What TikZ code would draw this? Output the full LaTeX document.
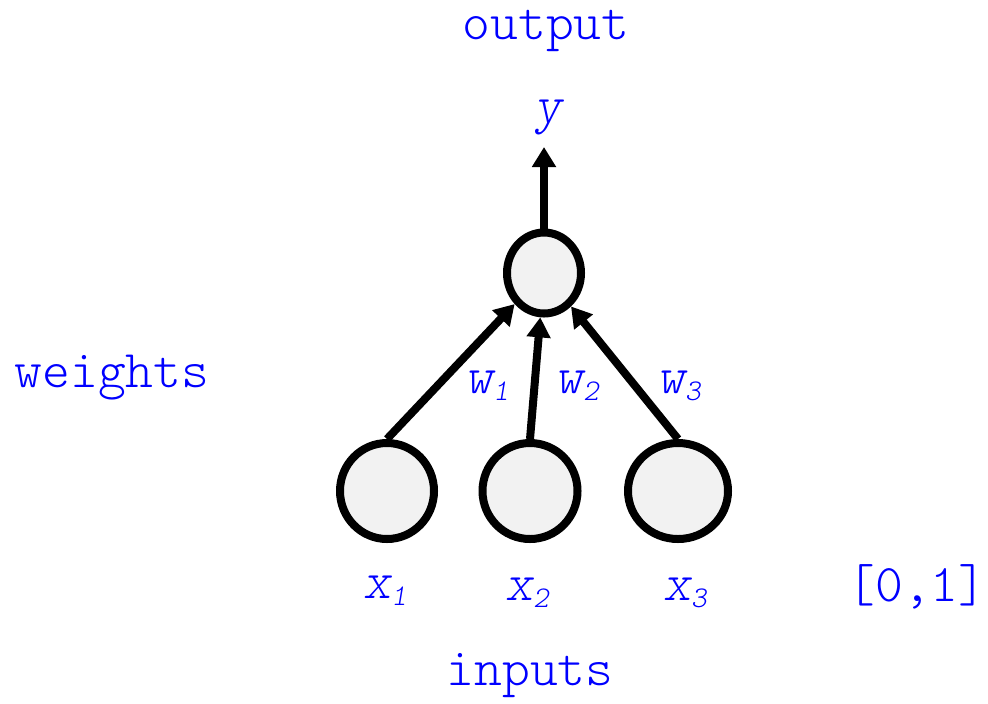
\documentclass[tikz,border=0pt]{standalone}
\usepackage{fontspec}
\newfontfamily\lblfont{lmmonolt10-regular.otf}[ItalicFont=lmmonolt10-oblique.otf]
\usetikzlibrary{arrows.meta,shapes.geometric}
\definecolor{cellfill}{HTML}{F2F2F2}
\definecolor{labelblue}{RGB}{0,0,255}
\newcommand\lowidx[1]{\raisebox{-3.5pt}{\fontsize{15}{15}\selectfont #1}}
\begin{document}
\begin{tikzpicture}[x=0.5pt,y=-0.5pt,
  unit/.style={draw,line width=4pt,fill=cellfill,ellipse,inner sep=0pt},
  lbl/.style={text=labelblue,font=\lblfont\fontsize{26.5}{32}\selectfont,anchor=base,inner sep=0pt},
  feed/.style={line width=4pt,-{Triangle[length=10pt,width=11.5pt]}}]
\useasboundingbox (0,0) rectangle (988,703);

\node[unit,minimum width=37pt,minimum height=40.5pt] (out) at (544,273) {};
\node[unit,minimum width=47pt,minimum height=48pt] (in1) at (387,491) {};
\node[unit,minimum width=47.5pt,minimum height=48pt] (in2) at (530,491) {};
\node[unit,minimum width=50pt,minimum height=48pt] (in3) at (678,491) {};

\node[lbl] (ylbl) at (548,122) {\itshape y};
\coordinate (ytip) at (544,147);

\node[lbl] (outtxt) at (546,39) {output};
\node[lbl] (wtxt) at (112,387) {weights};
\node[lbl] (intxt) at (530,685) {inputs};
\node[lbl] (range) at (917,601) {[0,1]};

\node[lbl] (w1) at (487,393) {\itshape w\lowidx{1}};
\node[lbl] (w2) at (577,393) {\itshape w\lowidx{2}};
\node[lbl] (w3) at (679,393) {\itshape w\lowidx{3}};

\node[lbl] (x1) at (385,598) {\itshape x\lowidx{1}};
\node[lbl] (x2) at (527,600) {\itshape x\lowidx{2}};
\node[lbl] (x3) at (685,600) {\itshape x\lowidx{3}};

\draw[feed] (in1.north) -- (out);
\draw[feed] (in2.north) -- (out);
\draw[feed] (in3.north) -- (out);
\draw[feed] (out.north) -- (ytip);
\end{tikzpicture}
\end{document}
